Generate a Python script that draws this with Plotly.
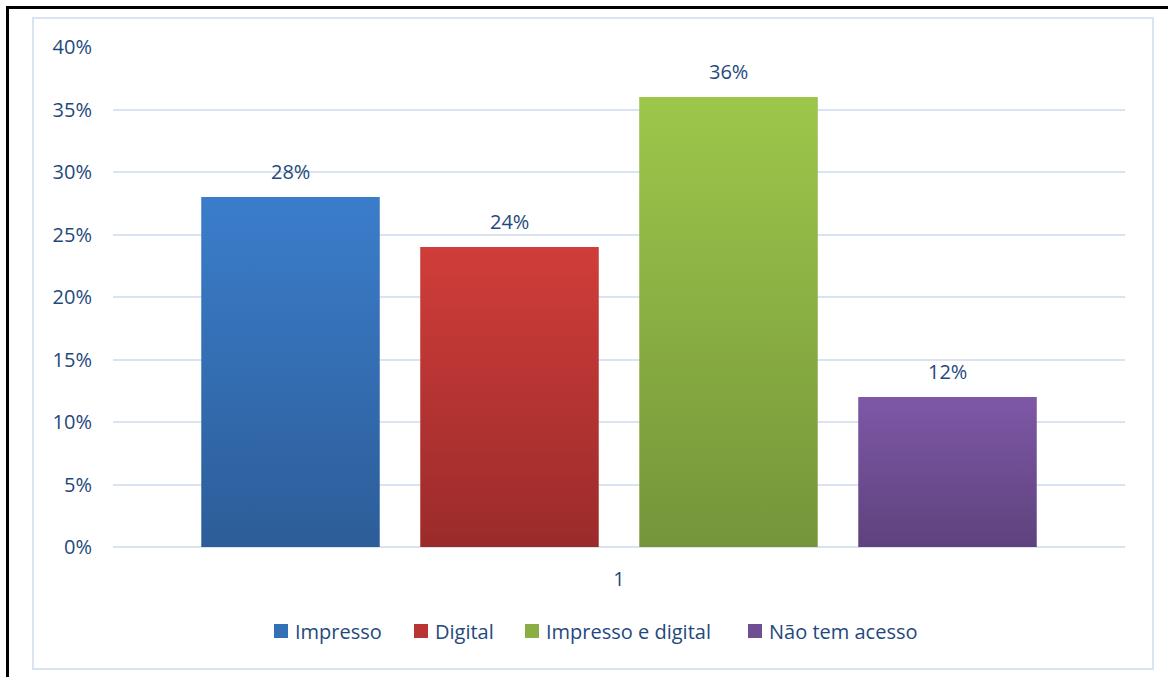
import plotly.graph_objects as go

# Survey answer categories and their shares
categories = ["Impresso", "Digital", "Impresso e digital", "Não tem acesso"]
shares = [0.28, 0.24, 0.36, 0.12]
group_label = "1"
y_ticks = [0, 0.05, 0.10, 0.15, 0.20, 0.25, 0.30, 0.35, 0.40]

# Gradient colours per series: (top, bottom); middle colour is used for the legend keys
top_colors = ["#3b7dcb", "#d03d3a", "#9dc74b", "#7e58a7"]
bottom_colors = ["#2c5d98", "#9a2b2a", "#75953a", "#5e427d"]
mid_colors = ["#3470b5", "#b93533", "#8aae43", "#6f4e94"]

TEXT = "#1F497D"
GRID = "#d9e3f2"
FONT = "Open Sans"
FS = 20

W, H = 1168, 677
L, R, T, B = 113, 43, 47, 130
plot_w = W - L - R
plot_h = H - T - B

# bar geometry on a numeric x axis spanning one category [-0.5, 0.5]
slot = 219 / plot_w
bar_w = 178 / plot_w
centers = [(i - (len(categories) - 1) / 2) * slot for i in range(len(categories))]

# legend key left edges (pixels) and vertical centre
legend_x = [274, 414, 525, 748]
legend_y = 631
key = 14


def px_x(p):
    return (p - L) / plot_w


def px_y(p):
    return (H - B - p) / plot_h


fig = go.Figure()
shapes = []

for name, v, c, mid, top, bot, lx in zip(categories, shares, centers, mid_colors,
                                         top_colors, bottom_colors, legend_x):
    fig.add_trace(go.Bar(
        x=[c], y=[v], width=bar_w, name=name,
        marker=dict(color=mid, line=dict(width=0)),
        hoverinfo="skip", showlegend=False,
    ))
    # vertical gradient overlay on the same bar
    x0, x1 = c - bar_w / 2, c + bar_w / 2
    fig.add_trace(go.Scatter(
        x=[x0, x1, x1, x0, x0], y=[0, 0, v, v, 0],
        mode="none", fill="toself",
        fillgradient=dict(type="vertical", colorscale=[[0, bot], [1, top]]),
        showlegend=False, hoverinfo="skip",
    ))
    # value label above the bar
    fig.add_annotation(
        x=c, y=v, text=f"{round(v * 100)}%", showarrow=False,
        yanchor="bottom", yshift=10,
        font=dict(family=FONT, size=FS, color=TEXT),
    )
    # legend key and text
    shapes.append(dict(
        type="rect", xref="paper", yref="paper",
        x0=px_x(lx), x1=px_x(lx + key),
        y0=px_y(legend_y + key / 2), y1=px_y(legend_y - key / 2),
        fillcolor=mid, line=dict(width=0),
    ))
    fig.add_annotation(
        xref="paper", yref="paper", x=px_x(lx + key + 5), y=px_y(legend_y),
        xanchor="left", yanchor="middle", text=name, showarrow=False,
        font=dict(family=FONT, size=FS, color=TEXT),
    )

shapes += [
    # light chart-area frame
    dict(type="rect", xref="paper", yref="paper",
         x0=px_x(33), x1=px_x(1153), y0=px_y(669), y1=px_y(18),
         line=dict(color=GRID, width=2), layer="below"),
    # dark outer frame edges (top and left)
    dict(type="line", xref="paper", yref="paper",
         x0=px_x(7.5), x1=px_x(W + 5), y0=px_y(7.5), y1=px_y(7.5),
         line=dict(color="black", width=3)),
    dict(type="line", xref="paper", yref="paper",
         x0=px_x(7.5), x1=px_x(7.5), y0=px_y(6), y1=px_y(H + 5),
         line=dict(color="black", width=3)),
]

fig.update_layout(
    width=W, height=H,
    margin=dict(l=L, r=R, t=T, b=B),
    paper_bgcolor="white", plot_bgcolor="white",
    barmode="overlay",
    shapes=shapes,
    font=dict(family=FONT, size=FS, color=TEXT),
    showlegend=False,
    xaxis=dict(
        range=[-0.5, 0.5], tickvals=[0], ticktext=[group_label],
        showgrid=False, zeroline=False, showline=False, ticks="",
        ticklabelstandoff=18, fixedrange=True,
        tickfont=dict(family=FONT, size=FS, color=TEXT),
    ),
    yaxis=dict(
        range=[0, 0.40], tickvals=y_ticks, tickformat=".0%",
        showgrid=True, gridcolor=GRID, gridwidth=2,
        zeroline=True, zerolinecolor=GRID, zerolinewidth=2,
        showline=False, ticks="", ticklabelstandoff=20,
        tickfont=dict(family=FONT, size=FS, color=TEXT),
    ),
)

fig.write_html("out.html")
